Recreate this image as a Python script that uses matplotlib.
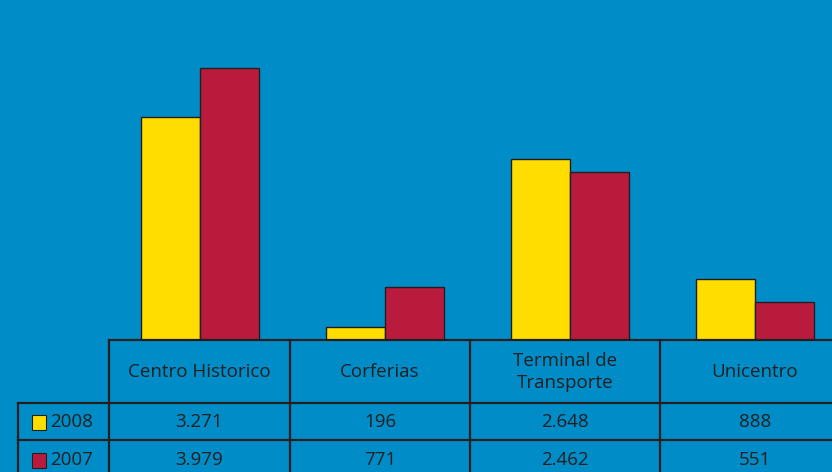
import numpy as np
import matplotlib.pyplot as plt

categories = ["Centro Historico", "Corferias", "Terminal de\nTransporte", "Unicentro"]
series_names = ["2008", "2007"]
values_2008 = [3271, 196, 2648, 888]
values_2007 = [3979, 771, 2462, 551]
labels_2008 = ["3.271", "196", "2.648", "888"]
labels_2007 = ["3.979", "771", "2.462", "551"]

BG = "#008dc7"
YELLOW = "#ffdd00"
RED = "#b81b3b"
INK = "#231f20"

plt.rcParams['font.family'] = ['Open Sans', 'DejaVu Sans']

W, H = 832, 472
fig = plt.figure(figsize=(W / 100, H / 100), dpi=100)
fig.patch.set_facecolor(BG)

# bar area: baseline at y=340px, left edge at table start
base_px = 340
ax = fig.add_axes([109 / W, (H - base_px) / H, 1 - 109 / W, base_px / H])
ax.set_facecolor(BG)
x = np.arange(len(categories))
w = 0.318
ax.bar(x - w / 2, values_2008, w, color=YELLOW, edgecolor=INK, linewidth=1.0, zorder=3)
ax.bar(x + w / 2, values_2007, w, color=RED, edgecolor=INK, linewidth=1.0, zorder=3)
ax.set_xlim(-0.491, 3.415)
ax.set_ylim(0, 4978)
ax.axis('off')

# table overlay in pixel coordinates
tb = fig.add_axes([0, 0, 1, 1])
tb.set_xlim(0, W)
tb.set_ylim(H, 0)
tb.axis('off')
tb.patch.set_alpha(0)

lw = 1.6
col_edges = [109, 290, 470, 660]
tb.plot([109, W], [340, 340], color=INK, lw=lw)
for y in [403, 440]:
    tb.plot([18, W], [y, y], color=INK, lw=lw)
for xe in col_edges:
    tb.plot([xe, xe], [340, H], color=INK, lw=lw)
tb.plot([18, 18], [403, H], color=INK, lw=lw)

fs = 13.5
col_centers = [199.5, 380, 565, 755]
for cx, name in zip(col_centers, categories):
    tb.text(cx, 372, name, ha='center', va='center', fontsize=fs, color=INK, linespacing=1.3)
for cx, v in zip(col_centers, labels_2008):
    tb.text(cx, 422, v, ha='center', va='center', fontsize=fs, color=INK)
for cx, v in zip(col_centers, labels_2007):
    tb.text(cx, 460, v, ha='center', va='center', fontsize=fs, color=INK)

# row legend keys
for y, c, name in [(422, YELLOW, series_names[0]), (460, RED, series_names[1])]:
    tb.add_patch(plt.Rectangle((32, y - 7.5), 14, 15, facecolor=c, edgecolor=INK, lw=0.8))
    tb.text(50, y, name, ha='left', va='center', fontsize=fs, color=INK)

fig.savefig("out.png", dpi=100, facecolor=BG)
